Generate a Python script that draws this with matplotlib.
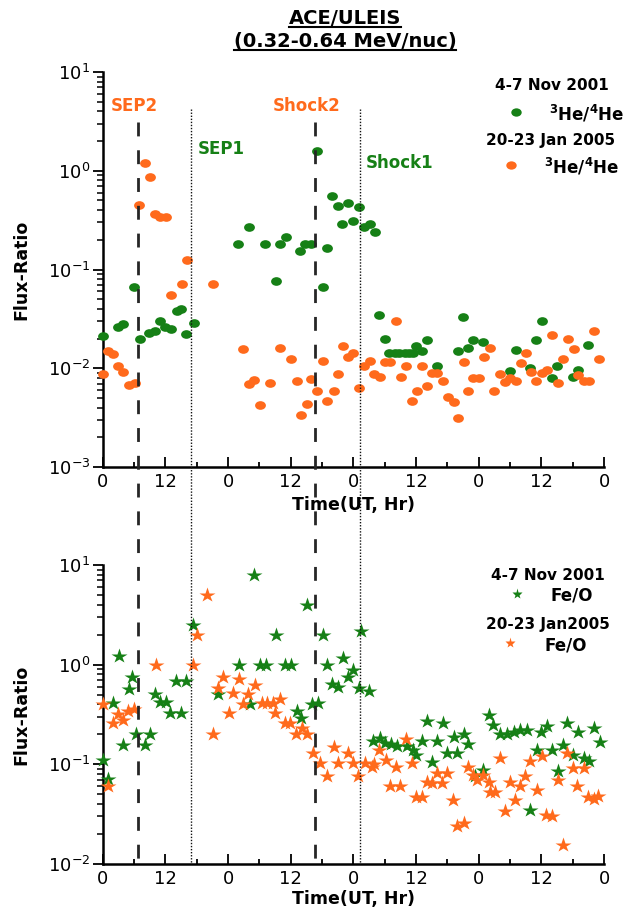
import matplotlib
matplotlib.use('Agg')
import matplotlib.pyplot as plt
from matplotlib.path import Path
from matplotlib.lines import Line2D
from matplotlib.transforms import blended_transform_factory
from matplotlib.ticker import LogLocator, NullFormatter, FixedLocator

plt.rcParams['font.family'] = ['DejaVu Sans']

GREEN = '#168016'
ORANGE = '#ff6a1c'

# ---------------- data (hours from 00 UT of day 1) ----------------
# 3He/4He, 4-7 Nov 2001
he_nov_t = [0, 2.9, 3.9, 5.9, 7.1, 8.9, 10.0, 11.0, 11.9, 13.0,
            14.2, 15.0, 16.0, 17.4, 25.9, 28.1, 31.0, 33.1, 34.0, 35.1,
            37.8, 38.8, 39.8, 41.0, 42.1, 43.0, 44.0, 45.0, 45.9, 47.0,
            48.0, 49.1, 50.1, 51.2, 52.2, 53.0, 54.1, 54.9, 55.9, 56.8,
            57.8, 58.7, 59.5, 60.0, 61.1, 62.1, 64.0, 68.0, 69.0, 70.0,
            71.0, 72.9, 78.0, 79.1, 81.9, 83.0, 84.1, 86.1, 87.0, 90.0,
            91.0, 93.0]
he_nov_v = [0.021, 0.026, 0.028, 0.066, 0.0196, 0.023, 0.024, 0.030, 0.026, 0.025,
            0.038, 0.040, 0.022, 0.029, 0.18, 0.27, 0.18, 0.077, 0.18, 0.215,
            0.153, 0.18, 0.18, 1.6, 0.066, 0.164, 0.55, 0.44, 0.29, 0.47,
            0.31, 0.43, 0.27, 0.29, 0.24, 0.0346, 0.0196, 0.0142, 0.0142, 0.0142,
            0.0142, 0.0142, 0.0142, 0.0168, 0.015, 0.0193, 0.0105, 0.015, 0.0333, 0.016,
            0.0193, 0.0183, 0.0094, 0.0153, 0.010, 0.0193, 0.030, 0.0079, 0.0105, 0.0081,
            0.0095, 0.0172]

# 3He/4He, 20-23 Jan 2005
he_jan_t = [0.1, 1.1, 2.0, 3.0, 3.9, 5.1, 6.1, 7.0, 8.1, 9.1,
            10.0, 11.0, 12.1, 13.0, 15.1, 16.1, 21.1, 26.9, 28.0, 29.0,
            30.1, 32.0, 34.0, 36.0, 37.2, 37.9, 39.1, 39.9, 41.1, 42.1,
            43.0, 44.2, 45.0, 46.1, 46.9, 48.0, 49.0, 50.1, 51.1, 52.0,
            53.1, 54.1, 55.0, 56.1, 57.1, 58.1, 59.2, 60.2, 61.1, 62.1,
            63.0, 64.1, 65.1, 66.1, 67.2, 68.1, 69.1, 70.0, 71.0, 72.1,
            73.0, 74.1, 75.0, 76.0, 77.1, 78.0, 79.1, 80.1, 81.1, 82.0,
            83.0, 84.1, 85.1, 86.1, 87.1, 88.1, 89.1, 90.2, 91.0, 92.1,
            93.2, 94.1, 95.1]
he_jan_v = [0.0087, 0.015, 0.0139, 0.0105, 0.0092, 0.0067, 0.0071, 0.45, 1.19, 0.86,
            0.365, 0.343, 0.343, 0.055, 0.072, 0.125, 0.072, 0.0156, 0.0069, 0.0076,
            0.0042, 0.0071, 0.016, 0.0123, 0.0075, 0.0034, 0.0043, 0.0078, 0.0059, 0.0118,
            0.0047, 0.0059, 0.0087, 0.0168, 0.0129, 0.0142, 0.0063, 0.0105, 0.0119, 0.0087,
            0.0081, 0.0115, 0.0115, 0.030, 0.0081, 0.0105, 0.0047, 0.0059, 0.0105, 0.0066,
            0.0089, 0.0089, 0.0075, 0.0051, 0.0046, 0.0031, 0.0115, 0.0059, 0.0079, 0.0079,
            0.0129, 0.016, 0.0059, 0.0087, 0.0072, 0.0079, 0.0074, 0.0112, 0.0142, 0.0092,
            0.0075, 0.0089, 0.0095, 0.0217, 0.0071, 0.0124, 0.0198, 0.0156, 0.0086, 0.0075,
            0.0075, 0.0238, 0.0123]

# Fe/O, 4-7 Nov 2001
feo_nov_t = [0, 1.1, 1.9, 3.1, 3.9, 5.1, 5.7, 6.4, 8.1, 9.1,
             10.0, 11.0, 12.1, 12.9, 14.0, 15.0, 16.0, 17.2, 22.0, 26.1,
             28.2, 28.9, 30.1, 31.2, 33.2, 34.9, 36.0, 37.2, 37.9, 39.1,
             40.0, 41.2, 42.1, 43.0, 44.0, 45.0, 46.1, 46.9, 48.0, 49.0,
             49.5, 51.0, 51.8, 53.1, 54.1, 55.2, 56.3, 58.2, 59.5, 60.0,
             61.1, 62.1, 63.0, 64.0, 65.1, 65.9, 67.2, 67.8, 69.1, 70.0,
             71.3, 72.8, 74.0, 74.8, 76.1, 77.4, 78.7, 79.9, 81.2, 81.9,
             83.1, 83.9, 85.1, 86.0, 87.1, 88.2, 88.9, 90.0, 91.1, 92.1,
             93.2, 94.1, 95.3]
feo_nov_v = [0.11, 0.072, 0.41, 1.23, 0.157, 0.57, 0.76, 0.20, 0.157, 0.20,
             0.51, 0.42, 0.42, 0.33, 0.68, 0.33, 0.68, 2.5, 0.51, 1.0,
             0.40, 7.9, 1.0, 1.0, 2.0, 1.0, 1.0, 0.34, 0.29, 4.0,
             0.40, 0.41, 2.0, 1.0, 0.64, 0.60, 1.17, 0.76, 0.89, 0.58,
             2.2, 0.54, 0.173, 0.183, 0.164, 0.16, 0.153, 0.152, 0.14, 0.125,
             0.17, 0.27, 0.105, 0.17, 0.26, 0.13, 0.19, 0.13, 0.20, 0.16,
             0.076, 0.088, 0.31, 0.25, 0.20, 0.20, 0.21, 0.22, 0.22, 0.035,
             0.14, 0.21, 0.24, 0.14, 0.085, 0.157, 0.26, 0.125, 0.21, 0.116,
             0.107, 0.23, 0.166]

# Fe/O, 20-23 Jan 2005
feo_jan_t = [0, 1.1, 2.0, 2.9, 3.9, 4.9, 5.9, 10.2, 17.2, 18.1,
             19.9, 21.2, 22.0, 23.0, 24.1, 25.0, 26.1, 26.9, 27.9, 29.2,
             30.5, 31.4, 32.6, 33.0, 34.0, 34.9, 35.9, 37.0, 38.1, 39.1,
             40.2, 41.6, 42.9, 44.2, 45.1, 46.9, 47.9, 48.9, 50.2, 51.5,
             52.0, 53.0, 54.3, 55.0, 56.2, 57.0, 58.1, 59.2, 60.0, 61.1,
             62.1, 63.0, 64.0, 64.9, 65.9, 67.0, 67.8, 69.1, 70.0, 71.0,
             71.6, 72.8, 73.9, 74.1, 75.2, 76.0, 77.1, 78.0, 79.0, 79.9,
             80.9, 81.9, 83.1, 84.1, 84.9, 86.0, 87.1, 88.2, 88.9, 90.0,
             90.9, 92.1, 93.0, 94.0, 94.9]
feo_jan_v = [0.40, 0.06, 0.26, 0.32, 0.28, 0.34, 0.36, 1.0, 1.0, 2.0,
             5.0, 0.20, 0.58, 0.76, 0.33, 0.52, 0.71, 0.40, 0.51, 0.62,
             0.41, 0.41, 0.41, 0.33, 0.45, 0.26, 0.26, 0.20, 0.23, 0.20,
             0.13, 0.104, 0.077, 0.15, 0.104, 0.13, 0.104, 0.076, 0.104, 0.095,
             0.10, 0.14, 0.11, 0.06, 0.095, 0.06, 0.18, 0.104, 0.047, 0.047,
             0.067, 0.065, 0.082, 0.065, 0.082, 0.044, 0.024, 0.026, 0.095, 0.078,
             0.07, 0.078, 0.067, 0.053, 0.053, 0.115, 0.034, 0.067, 0.044, 0.06,
             0.077, 0.107, 0.055, 0.12, 0.031, 0.030, 0.07, 0.0155, 0.13, 0.092,
             0.06, 0.092, 0.047, 0.045, 0.048]

x_major = [0, 12, 24, 36, 48, 60, 72, 84, 96]
x_labels = ['0', '12', '0', '12', '0', '12', '0', '12', '0']
x_minor = [6, 18, 30, 42, 54, 66, 78, 90]

# event times (hours) : label, time, colour, style
events = [('SEP2', 6.8, ORANGE, 'dash'),
          ('SEP1', 16.9, GREEN, 'dot'),
          ('Shock2', 40.7, ORANGE, 'dash'),
          ('Shock1', 49.3, GREEN, 'dot')]

# ---------------- figure ----------------
W, H = 625, 915
fig = plt.figure(figsize=(W / 100, H / 100), dpi=100)


def fx(x):
    return x / W


def fy(y):
    return 1 - y / H


L, R = 102.7, 604
ax1 = fig.add_axes([fx(L), fy(467), fx(R) - fx(L), fy(72) - fy(467)])
ax2 = fig.add_axes([fx(L), fy(864), fx(R) - fx(L), fy(565) - fy(864)])

circ = Path.unit_circle()
ellipse = Path(circ.vertices * [1.0, 0.8], circ.codes)

ax1.plot(he_nov_t, he_nov_v, ls='none', marker=ellipse, ms=7.8, color=GREEN,
         mec='none', clip_on=False, zorder=3)
ax1.plot(he_jan_t, he_jan_v, ls='none', marker=ellipse, ms=7.8, color=ORANGE,
         mec='none', clip_on=False, zorder=3)
ax2.plot(feo_nov_t, feo_nov_v, ls='none', marker='*', ms=11.5, color=GREEN,
         mec='none', clip_on=False, zorder=3)
ax2.plot(feo_jan_t, feo_jan_v, ls='none', marker='*', ms=11.5, color=ORANGE,
         mec='none', clip_on=False, zorder=3)

for ax, ylim in ((ax1, (1e-3, 1e1)), (ax2, (1e-2, 1e1))):
    ax.set_yscale('log')
    ax.set_ylim(*ylim)
    ax.set_xlim(0, 96)
    ax.xaxis.set_major_locator(FixedLocator(x_major))
    ax.set_xticklabels(x_labels)
    ax.xaxis.set_minor_locator(FixedLocator(x_minor))
    ax.yaxis.set_major_locator(LogLocator(base=10, numticks=10))
    ax.yaxis.set_minor_locator(LogLocator(base=10, subs=range(2, 10), numticks=20))
    ax.yaxis.set_minor_formatter(NullFormatter())
    for s in ('top', 'right'):
        ax.spines[s].set_visible(False)
    for s in ('left', 'bottom'):
        ax.spines[s].set_linewidth(1.8)
    ax.tick_params(axis='x', which='major', direction='in', length=7.5, width=1.3,
                   labelsize=13, pad=4)
    ax.tick_params(axis='x', which='minor', direction='in', length=3.5, width=1.3)
    ax.tick_params(axis='y', which='major', direction='out', length=7.5, width=1.3,
                   labelsize=13, pad=1.5)
    ax.tick_params(axis='y', which='minor', direction='out', length=4, width=1.1)
    ax.set_ylabel('Flux-Ratio', fontsize=12.5, fontweight='bold')
    ax.yaxis.set_label_coords(-0.145, 0.5)
    ax.set_xlabel('Time(UT, Hr)', fontsize=12.5, fontweight='bold')
    ax.patch.set_alpha(0)

ax1.xaxis.set_label_coords(0.5, -0.074)
ax2.xaxis.set_label_coords(0.5, -0.088)

# event lines spanning both panels
trans = blended_transform_factory(ax1.transData, fig.transFigure)
for name, t, col, style in events:
    if style == 'dash':
        ln = Line2D([t, t], [fy(122), fy(864)], transform=trans, color='#262626',
                    lw=2.0, ls=(0, (5, 5)), zorder=1)
    else:
        ln = Line2D([t, t], [fy(109), fy(864)], transform=trans, color='#111111',
                    lw=1.0, ls=(0, (1, 1.2)), zorder=1)
    fig.add_artist(ln)

# event labels
label_pos = {'SEP2': (134, 106, 'center'), 'Shock2': (307, 106, 'center'),
             'SEP1': (198, 149, 'left'), 'Shock1': (366, 163, 'left')}
for name, t, col, style in events:
    x, y, ha = label_pos[name]
    fig.text(fx(x), fy(y), name, color=col, fontsize=12, fontweight='bold',
             ha=ha, va='center')

# title (underlined)
titles = [fig.text(fx(345), fy(18), 'ACE/ULEIS', fontsize=14, fontweight='bold',
                   ha='center', va='center'),
          fig.text(fx(345), fy(41), '(0.32-0.64 MeV/nuc)', fontsize=14,
                   fontweight='bold', ha='center', va='center')]

HE = r'$\mathbf{^{3}He/^{4}He}$'

# legends (manual)
fig.text(fx(552), fy(86), '4-7 Nov 2001', fontsize=11, fontweight='bold',
         ha='center', va='center')
fig.add_artist(Line2D([fx(516)], [fy(112)], ls='none', marker=ellipse, ms=7.5,
                      color=GREEN, mec='none', transform=fig.transFigure))
fig.text(fx(549), fy(114), HE, fontsize=12, ha='left', va='center')
fig.text(fx(551), fy(140), '20-23 Jan 2005', fontsize=11, fontweight='bold',
         ha='center', va='center')
fig.add_artist(Line2D([fx(511)], [fy(165)], ls='none', marker=ellipse, ms=7.5,
                      color=ORANGE, mec='none', transform=fig.transFigure))
fig.text(fx(544), fy(167), HE, fontsize=12, ha='left', va='center')

fig.text(fx(548), fy(575), '4-7 Nov 2001', fontsize=11, fontweight='bold',
         ha='center', va='center')
fig.add_artist(Line2D([fx(517)], [fy(594)], ls='none', marker='*', ms=8,
                      color=GREEN, mec='none', transform=fig.transFigure))
fig.text(fx(550), fy(596), 'Fe/O', fontsize=12, fontweight='bold',
         ha='left', va='center')
fig.text(fx(548), fy(625), '20-23 Jan2005', fontsize=11, fontweight='bold',
         ha='center', va='center')
fig.add_artist(Line2D([fx(510)], [fy(643)], ls='none', marker='*', ms=8,
                      color=ORANGE, mec='none', transform=fig.transFigure))
fig.text(fx(544), fy(645), 'Fe/O', fontsize=12, fontweight='bold',
         ha='left', va='center')

# underline titles
fig.canvas.draw()
renderer = fig.canvas.get_renderer()
inv = fig.transFigure.inverted()
for t in titles:
    bb = t.get_window_extent(renderer)
    (x0, y0), (x1, y1) = inv.transform([(bb.x0, bb.y0), (bb.x1, bb.y1)])
    fig.add_artist(Line2D([x0, x1], [y0 + 0.001, y0 + 0.001], color='black', lw=1.5,
                          transform=fig.transFigure))

fig.savefig('out.png', dpi=100)
